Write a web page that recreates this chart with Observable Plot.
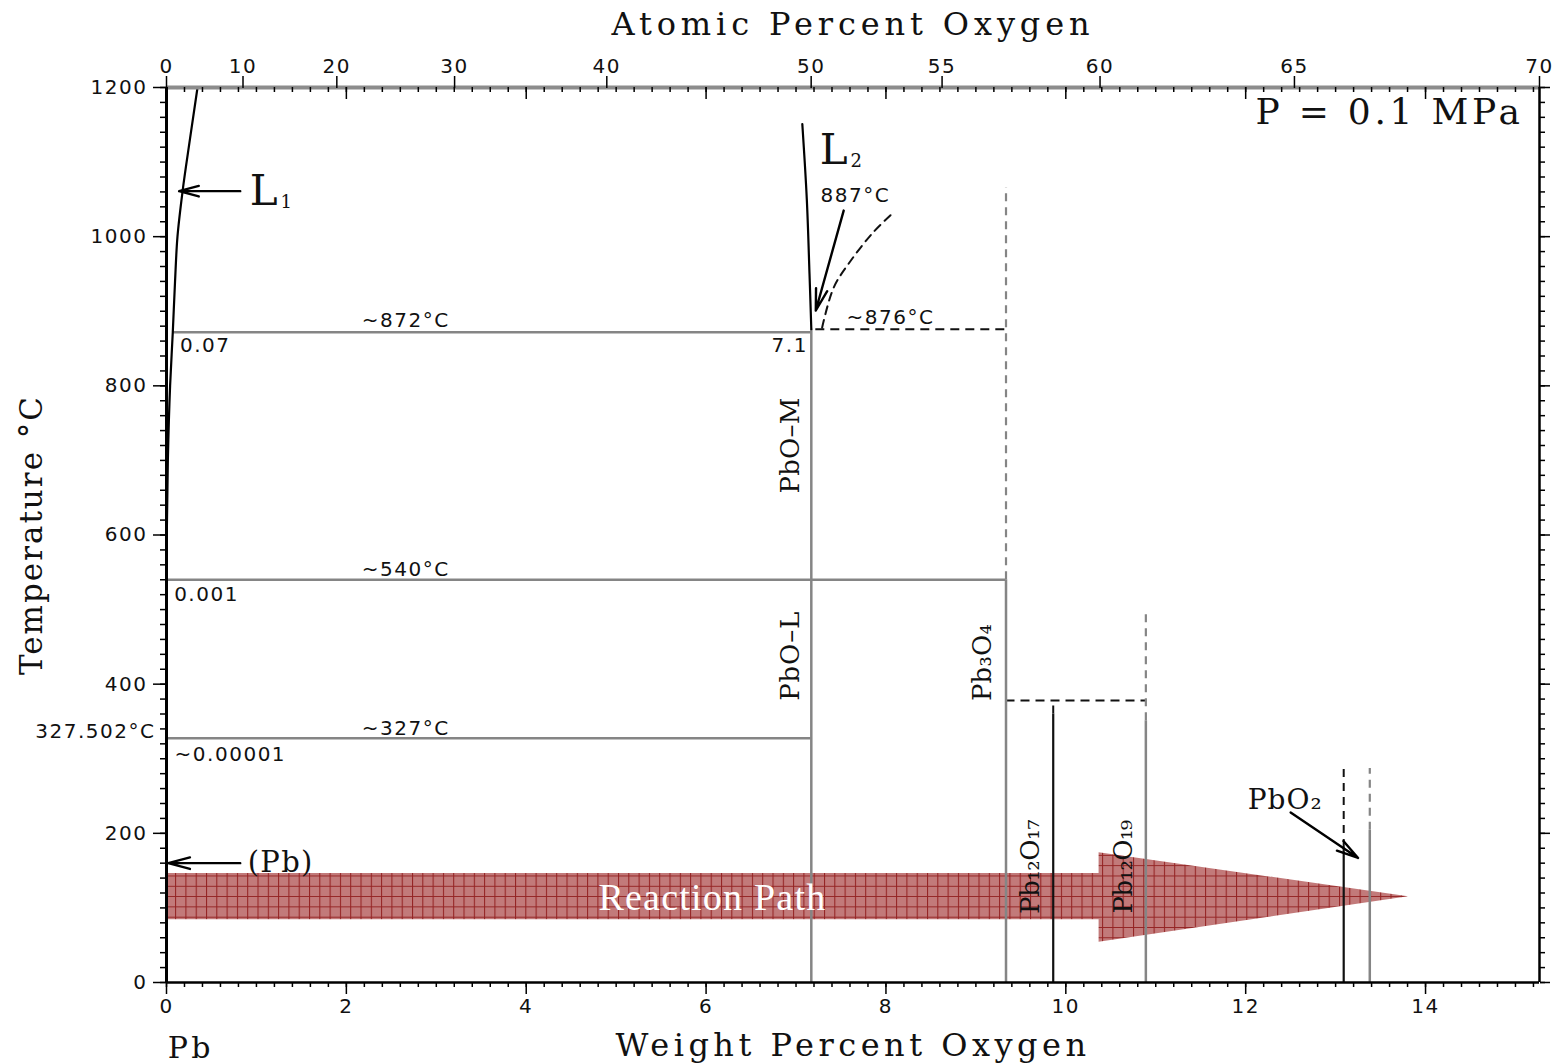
<!DOCTYPE html>
<html>
<head>
<meta charset="utf-8">
<script src="https://cdn.jsdelivr.net/npm/d3@7"></script>
<script src="https://cdn.jsdelivr.net/npm/@observablehq/plot@0.6"></script>
<style>
html, body { margin: 0; padding: 0; background: #fff; }
g[font-family="DejaVu Sans"] text { letter-spacing: 1.5px; }
g[font-family="DejaVu Sans, sans-serif"] text { letter-spacing: 1.5px; }
</style>
</head>
<body>
<div id="chart"></div>
<script>
// ---------- composition conversion (atomic weights) ----------
const AW_O = 16.00, AW_PB = 207.2;
const atToWt = a => 100 * AW_O * a / (AW_O * a + AW_PB * (100 - a));
const wtToAt = w => 100 * (w / AW_O) / (w / AW_O + (100 - w) / AW_PB);
const X_MAX = atToWt(70);

// ---------- axis ticks ----------
const wtMajorTicks = [0, 2, 4, 6, 8, 10, 12, 14];
const wtMinorTicks = d3.range(0, 15.21, 0.2);
const atTickLabels = [0, 10, 20, 30, 40, 50, 55, 60, 65, 70];
const tempMajorTicks = [0, 200, 400, 600, 800, 1000, 1200];
const tempMinorTicks = d3.range(0, 1201, 20);

// ---------- liquidus curves ----------
const liq1Wt = [0, 0.0005, 0.003, 0.015, 0.04, 0.07, 0.095, 0.122, 0.18, 0.26, 0.345];
const liq1T  = [327.5, 500, 600, 700, 800, 872, 940, 1000, 1062, 1130, 1200];
const liq2Wt = [7.17, 7.15, 7.12, 7.07];
const liq2T  = [876, 950, 1050, 1151];
const dashCurveWt = [7.29, 7.42, 7.61, 7.86, 8.08];
const dashCurveT  = [878, 932, 968, 1006, 1032];

// ---------- isotherms ----------
const isoT   = [872, 540, 327.5];
const isoWt1 = [0.07, 0, 0];
const isoWt2 = [7.17, 9.335, 7.17];
const dashIsoT   = [876, 378];
const dashIsoWt1 = [7.22, 9.335];
const dashIsoWt2 = [9.335, 10.89];

// ---------- compound (line) phases ----------
const phaseName     = ["PbO", "Pb3O4", "Pb12O17", "Pb12O19", "PbO2-x", "PbO2"];
const phaseWt       = [7.17, 9.335, 9.86, 10.89, 13.09, 13.38];
const phaseSolidTop = [876, 540, 360, 351, 181, 204];
const phaseDashTop  = [876, 1066, 378, 499, 291, 287];
const phaseBlack    = [false, false, true, false, true, false];

// ---------- reaction path arrow (polygon) ----------
const pathWt   = [0, 10.37, 10.37, 13.81];
const pathLow  = [84, 84, 54, 115];
const pathHigh = [146, 146, 174, 115];

// ---------- annotation arrows ----------
const arrowX1 = [0.82, 0.82, 7.53, 12.5];
const arrowY1 = [1061, 160, 1035, 228];
const arrowX2 = [0.14, 0.02, 7.22, 13.25];
const arrowY2 = [1061, 160, 901, 167];

// ---------- labels ----------
const noteText = ["~872°C", "0.07", "7.1", "~540°C", "0.001", "~327°C", "~0.00001", "887°C", "~876°C"];
const noteWt   = [2.66, 0.43, 6.93, 2.66, 0.445, 2.66, 0.71, 7.66, 8.05];
const noteT    = [888, 854, 854, 554, 520, 341, 306, 1055, 892];

const bigLText = ["L", "L"];
const bigLWt   = [1.08, 7.42];
const bigLT    = [1061, 1116];
const subText  = ["1", "2"];
const subWt    = [1.33, 7.67];
const subT     = [1046, 1101];

const rotText = ["PbO–M", "PbO–L", "Pb₃O₄", "Pb₁₂O₁₇", "Pb₁₂O₁₉"];
const rotWt   = [6.94, 6.94, 9.08, 9.61, 10.64];
const rotT    = [720, 438, 429, 155, 155];

const serifText = ["(Pb)", "PbO₂", "P = 0.1 MPa"];
const serifWt   = [1.27, 12.44, 13.60];
const serifT    = [161, 244, 1166];
const serifSize = [29, 28, 36];

const pathLabel = ["Reaction Path"];
const pathLabelWt = [6.07];
const pathLabelT = [114];

const axisTitleTop = "Atomic Percent Oxygen";
const axisTitleBottom = "Weight Percent Oxygen";
const axisTitleLeft = "Temperature °C";
const leftEndLabel = "Pb";
const meltLabel = "327.502°C";

const idx = n => d3.range(n);
const gray = "#858585";
const tickFont = {fontFamily: "DejaVu Sans", fontSize: 20, fill: "#111"};

const chart = Plot.plot({
  width: 1557,
  height: 1064,
  marginLeft: 166,
  marginRight: 18,
  marginTop: 87,
  marginBottom: 82,
  x: {domain: [0, X_MAX]},
  y: {domain: [0, 1200]},
  style: {background: "#fff", fontFamily: "DejaVu Sans", color: "#111"},
  marks: [
    // Reaction path
    Plot.areaY(idx(pathWt.length), {
      x: i => pathWt[i], y1: i => pathLow[i], y2: i => pathHigh[i],
      fill: "url(#rxgrid)", fillOpacity: 0.92, curve: "linear"
    }),
    // isotherms
    Plot.ruleY(idx(isoT.length), {y: i => isoT[i], x1: i => isoWt1[i], x2: i => isoWt2[i], stroke: gray, strokeWidth: 2.5}),
    Plot.ruleY(idx(dashIsoT.length), {y: i => dashIsoT[i], x1: i => dashIsoWt1[i], x2: i => dashIsoWt2[i], stroke: "#111", strokeWidth: 2, strokeDasharray: "9,6"}),
    // phase lines
    Plot.ruleX(idx(phaseWt.length).filter(i => !phaseBlack[i]), {x: i => phaseWt[i], y1: 0, y2: i => phaseSolidTop[i], stroke: gray, strokeWidth: 2.5}),
    Plot.ruleX(idx(phaseWt.length).filter(i => phaseBlack[i]), {x: i => phaseWt[i], y1: 0, y2: i => phaseSolidTop[i], stroke: "#111", strokeWidth: 2.2}),
    Plot.ruleX(idx(phaseWt.length).filter(i => !phaseBlack[i] && phaseDashTop[i] > phaseSolidTop[i]), {x: i => phaseWt[i], y1: i => phaseSolidTop[i], y2: i => phaseDashTop[i], stroke: gray, strokeWidth: 2.2, strokeDasharray: "8,6"}),
    Plot.ruleX(idx(phaseWt.length).filter(i => phaseBlack[i] && phaseDashTop[i] > phaseSolidTop[i]), {x: i => phaseWt[i], y1: i => phaseSolidTop[i], y2: i => phaseDashTop[i], stroke: "#111", strokeWidth: 2, strokeDasharray: "8,6"}),
    // liquidus curves
    Plot.line(idx(liq1Wt.length), {x: i => liq1Wt[i], y: i => liq1T[i], stroke: "#000", strokeWidth: 2.2, curve: "monotone-y"}),
    Plot.line(idx(liq2Wt.length), {x: i => liq2Wt[i], y: i => liq2T[i], stroke: "#000", strokeWidth: 2.2, curve: "catmull-rom"}),
    Plot.line(idx(dashCurveWt.length), {x: i => dashCurveWt[i], y: i => dashCurveT[i], stroke: "#111", strokeWidth: 2, strokeDasharray: "8,6", curve: "catmull-rom"}),
    // arrows
    Plot.arrow(idx(arrowX1.length), {x1: i => arrowX1[i], y1: i => arrowY1[i], x2: i => arrowX2[i], y2: i => arrowY2[i], stroke: "#000", strokeWidth: 2.4, headLength: 14, headAngle: 30}),
    // frame
    Plot.ruleY([1200], {stroke: "#8c8c8c", strokeWidth: 4}),
    Plot.ruleX([0], {stroke: "#000", strokeWidth: 3}),
    Plot.ruleX([X_MAX], {stroke: "#000", strokeWidth: 2.5}),
    Plot.ruleY([0], {stroke: "#000", strokeWidth: 2.5}),
    // axes
    Plot.axisX({anchor: "bottom", ticks: wtMajorTicks, tickSize: 12, tickPadding: 4, tickFormat: d => String(d), label: null, ...tickFont, stroke: "#000", strokeWidth: 1.5}),
    Plot.axisX({anchor: "bottom", ticks: wtMinorTicks, tickSize: 5, fill: "none", stroke: "#000", strokeWidth: 1.5, label: null}),
    Plot.axisX({anchor: "top", ticks: atTickLabels.map(atToWt), tickSize: 12, tickPadding: 3, tickFormat: d => String(Math.round(wtToAt(d))), label: null, ...tickFont, stroke: "#000", strokeWidth: 1.5}),
    Plot.tickX(wtMajorTicks, {x: d => d, insetBottom: 895 - 12, stroke: "#000", strokeWidth: 1.5}),
    Plot.tickX(wtMinorTicks, {x: d => d, insetBottom: 895 - 5, stroke: "#000", strokeWidth: 1.5}),
    Plot.axisY({anchor: "left", ticks: tempMajorTicks, tickSize: 13, tickPadding: 6, tickFormat: d => String(d), label: null, ...tickFont, stroke: "#000", strokeWidth: 1.5}),
    Plot.axisY({anchor: "left", ticks: tempMinorTicks, tickSize: 6, fill: "none", stroke: "#000", strokeWidth: 1.5, label: null}),
    Plot.axisY({anchor: "right", ticks: tempMajorTicks, tickSize: 10, fill: "none", stroke: "#000", strokeWidth: 1.5, label: null}),
    Plot.axisY({anchor: "right", ticks: tempMinorTicks, tickSize: 5, fill: "none", stroke: "#000", strokeWidth: 1.5, label: null}),
    Plot.text([meltLabel], {x: 0, y: 327.502, text: d => d, dx: -11, dy: -7, textAnchor: "end", ...tickFont}),
    // notes
    Plot.text(idx(noteText.length), {x: i => noteWt[i], y: i => noteT[i], text: i => noteText[i], fontFamily: "DejaVu Sans, sans-serif", fontSize: 20, fill: "#111"}),
    Plot.text(idx(bigLText.length), {x: i => bigLWt[i], y: i => bigLT[i], text: i => bigLText[i], fontFamily: "DejaVu Serif", fontSize: 42, fill: "#111"}),
    Plot.text(idx(subText.length), {x: i => subWt[i], y: i => subT[i], text: i => subText[i], fontFamily: "DejaVu Serif", fontSize: 18, fill: "#111"}),
    Plot.text(idx(rotText.length), {x: i => rotWt[i], y: i => rotT[i], text: i => rotText[i], rotate: -90, fontFamily: "DejaVu Serif", fontSize: 26, fill: "#111"}),
    Plot.text(idx(serifText.length), {x: i => serifWt[i], y: i => serifT[i], text: i => serifText[i], fontSize: i => serifSize[i], fontFamily: "DejaVu Serif", fill: "#111"}),
    Plot.text(pathLabel, {x: pathLabelWt[0], y: pathLabelT[0], text: d => d, fontFamily: "Liberation Serif", fontSize: 38, fill: "#fff"}),
    // axis titles
    Plot.text([axisTitleTop], {text: d => d, frameAnchor: "top", lineAnchor: "middle", dy: -63, fontFamily: "DejaVu Serif", fontSize: 32, fill: "#111"}),
    Plot.text([axisTitleBottom], {text: d => d, frameAnchor: "bottom", lineAnchor: "middle", dy: 63, fontFamily: "DejaVu Serif", fontSize: 32, fill: "#111"}),
    Plot.text([axisTitleLeft], {text: d => d, frameAnchor: "left", lineAnchor: "middle", textAnchor: "middle", dx: -134, rotate: -90, fontFamily: "DejaVu Serif", fontSize: 31, fill: "#111"}),
    Plot.text([leftEndLabel], {x: 0.27, text: d => d, frameAnchor: "bottom", lineAnchor: "middle", dy: 66, fontFamily: "DejaVu Serif", fontSize: 30, fill: "#111"})
  ]
});

// pattern for reaction path
const svg = d3.select(chart);
const defs = svg.insert("defs", ":first-child");
const pat = defs.append("pattern").attr("id", "rxgrid").attr("patternUnits", "userSpaceOnUse")
  .attr("width", 10.3).attr("height", 10.3);
pat.append("rect").attr("width", 10.3).attr("height", 10.3).attr("fill", "#bd6f6f");
pat.append("path").attr("d", "M0 0.5H10.3M0.5 0V10.3").attr("stroke", "#8b1010").attr("stroke-width", 1.1).attr("fill", "none");

document.getElementById("chart").append(chart);

// fit label widths to the reference
const fitWidths = new Map([
  [axisTitleTop, 483], [axisTitleBottom, 475], [axisTitleLeft, 280],
  ["P = 0.1 MPa", 268], ["Reaction Path", 228], ["(Pb)", 66], ["PbO₂", 75],
  ["PbO–M", 96], ["PbO–L", 90], ["Pb₃O₄", 77], ["Pb₁₂O₁₇", 94], ["Pb₁₂O₁₉", 93], [leftEndLabel, 46]
]);
svg.selectAll("text").each(function() {
  const t = this.textContent;
  if (!fitWidths.has(t)) return;
  const len = this.getComputedTextLength();
  const n = [...t].length;
  const ls = (fitWidths.get(t) - len) / Math.max(1, n);
  this.style.letterSpacing = ls.toFixed(2) + "px";
});
</script>
</body>
</html>
